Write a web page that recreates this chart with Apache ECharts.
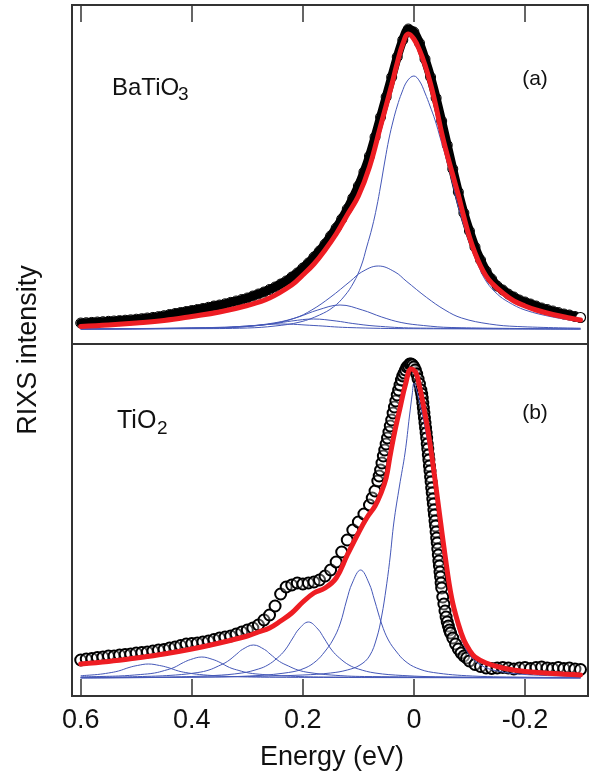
<!DOCTYPE html>
<html>
<head>
<meta charset="utf-8">
<title>RIXS BaTiO3 / TiO2</title>
<script src="https://cdn.jsdelivr.net/npm/echarts@6/dist/echarts.min.js"></script>
<style>
    html, body { margin: 0; padding: 0; background: #fff; }
    #chart { width: 591px; height: 776px; }
</style>
</head>
<body>
<div id="chart"></div>
<script>
// energy ticks (eV), axis runs from high to low
var tickValues = [0.6, 0.4, 0.2, 0, -0.2];

// (a) BaTiO3 : measured points [energy, intensity]
var dataA = [
    [0.60,6],[0.59,6.3],[0.58,6.6],[0.57,7],[0.56,7.3],[0.55,7.7],[0.54,8],[0.53,8.4],[0.52,8.8],[0.51,9.2],
    [0.50,9.8],[0.49,10.3],[0.48,11],[0.47,11.6],[0.46,12.4],[0.45,13.3],[0.44,14.5],[0.43,15.5],[0.42,16.5],[0.41,17.5],
    [0.40,18.5],[0.39,19.5],[0.38,20.5],[0.37,21.7],[0.36,23],[0.35,24],[0.34,25.2],[0.33,26.6],[0.32,28],[0.31,29.5],
    [0.30,31],[0.29,33],[0.28,35],[0.27,37],[0.26,39.5],[0.25,42],[0.24,45],[0.23,48],[0.22,52],[0.21,56],
    [0.20,61],[0.19,66],[0.18,72],[0.17,78],[0.16,85],[0.15,93],[0.14,101],[0.13,110],[0.12,120],[0.11,131],
    [0.10,143],[0.09,157],[0.08,173],[0.07,192],[0.06,212],[0.05,232],[0.04,252],[0.03,272],[0.02,289],[0.01,300],
    [0.00,297],[-0.01,286],[-0.02,270],[-0.03,252],[-0.04,231],[-0.05,208],[-0.06,184],[-0.07,160],[-0.08,137],[-0.09,116],
    [-0.10,98],[-0.11,82],[-0.12,69],[-0.13,58],[-0.14,50],[-0.15,43],[-0.16,39],[-0.17,35],[-0.18,32],[-0.19,29],
    [-0.20,27],[-0.21,25],[-0.22,23],[-0.23,21],[-0.24,19.5],[-0.25,18],[-0.26,16.5],[-0.27,15],[-0.28,14],[-0.29,12.5],
    [-0.30,11.5]
];
// (a) total fit
var fitA = [
    [0.60,2.5],[0.55,4],[0.50,6],[0.45,8.5],[0.40,12.5],[0.35,17],[0.30,23.5],[0.26,31],[0.22,44],[0.20,54],
    [0.18,65],[0.16,79],[0.14,95],[0.12,114],[0.10,133],[0.08,162],[0.06,203],[0.04,244],[0.03,266],[0.02,285],
    [0.01,295],[0.0,290],[-0.01,279],[-0.02,264],[-0.03,245],[-0.04,222],[-0.05,196],[-0.06,174],[-0.07,154],[-0.08,134],
    [-0.09,112],[-0.10,92],[-0.11,76],[-0.12,63],[-0.13,53],[-0.14,46],[-0.16,36],[-0.18,28],[-0.20,23],[-0.22,19],
    [-0.25,14.5],[-0.28,11],[-0.30,9]
];
// (a) fit components
var compA1 = [[0.60,0],[0.40,0.3],[0.30,1],[0.25,3],[0.205,7],[0.17,14],[0.145,22],[0.125,33],[0.109,46],[0.095,63],
    [0.085,82],[0.075,102],[0.067,122],[0.06,143],[0.052,169],[0.045,190],[0.037,209],[0.03,223],[0.022,236],[0.012,248],
    [0.0,253],[-0.01,248],[-0.02,236],[-0.029,223],[-0.038,209],[-0.048,190],[-0.059,169],[-0.07,145],[-0.08,122],[-0.092,100],
    [-0.104,80],[-0.117,62],[-0.131,47],[-0.15,35],[-0.17,27],[-0.20,19],[-0.25,12],[-0.30,7.5]];
var compA2 = [[0.60,0],[0.414,1],[0.314,2.5],[0.264,5],[0.214,11],[0.184,19],[0.151,31.5],[0.114,48],[0.094,57],[0.064,63],
    [0.034,57],[0.014,48],[-0.023,31.5],[-0.056,19],[-0.086,11],[-0.136,5],[-0.186,2.5],[-0.30,0.8]];
var compA3 = [[0.60,0],[0.333,1.5],[0.283,3.5],[0.243,6.5],[0.208,12],[0.173,19],[0.133,24],[0.093,19],[0.058,12],
    [0.023,6.5],[-0.017,3.5],[-0.067,1.5],[-0.30,0]];
var compA4 = [[0.60,0],[0.35,1.2],[0.29,3],[0.25,5.5],[0.22,8],[0.181,10],[0.14,8],[0.11,5.5],[0.07,3],[0.0,1],[-0.30,0]];
var compA5 = [[0.60,0],[0.36,1],[0.30,3],[0.24,5],[0.18,3.5],[0.12,1.5],[0.0,0.3],[-0.30,0]];

// (b) TiO2 : measured points
var dataB = [
    [0.60,18],[0.59,19],[0.58,19.5],[0.57,20.5],[0.56,21],[0.55,22],[0.54,22],[0.53,23],[0.52,23.5],[0.51,24],
    [0.50,25],[0.49,25.5],[0.48,26],[0.47,27],[0.46,28],[0.45,28.5],[0.44,30],[0.43,31],[0.42,32.5],[0.41,34],
    [0.40,34.5],[0.39,35],[0.38,36],[0.37,37],[0.36,38.5],[0.35,40],[0.34,41],[0.33,42],[0.32,44],[0.31,46],
    [0.30,48],[0.29,50],[0.28,53],[0.27,58],[0.26,63],[0.25,72],[0.24,84],[0.23,91],[0.22,93],[0.21,95],
    [0.20,94],[0.19,95],[0.18,96],[0.17,98],[0.16,102],[0.15,108],[0.14,116],[0.13,126],[0.12,138],[0.11,148],
    [0.10,156],[0.09,164],[0.08,173],[0.075,180],[0.07,187],[0.065,197],[0.0625,202],[0.06,208],[0.0575,215],[0.055,222],
    [0.0525,228],[0.05,234],[0.0475,240],[0.045,246],[0.0425,252],[0.04,258],[0.0375,265],[0.035,271],[0.0325,277],[0.03,283],
    [0.0275,288],[0.025,293],[0.0225,298],[0.02,302],[0.0175,305],[0.015,308],[0.0125,311],[0.01,312],[0.0075,314],[0.005,314],
    [0.0025,313],[0,311],[-0.0025,308],[-0.005,304],[-0.0075,299],[-0.01,294],[-0.0125,288],[-0.014,284],[-0.015,280],[-0.016,275],
    [-0.017,270],[-0.018,265],[-0.019,260],[-0.02,255],[-0.021,250],[-0.022,245],[-0.023,240],[-0.024,234],[-0.025,229],[-0.026,223],
    [-0.027,218],[-0.028,212],[-0.029,207],[-0.03,201],[-0.031,196],[-0.032,190],[-0.033,185],[-0.034,179],[-0.035,174],[-0.036,168],
    [-0.037,163],[-0.038,157],[-0.039,152],[-0.04,146],[-0.041,140],[-0.042,135],[-0.043,129],[-0.044,123],[-0.045,117],[-0.046,112],
    [-0.047,106],[-0.048,101],[-0.049,95],[-0.05,90],[-0.052,81],[-0.054,74],[-0.056,67],[-0.058,61],[-0.06,56],[-0.062,52],
    [-0.064,48],[-0.066,45],[-0.07,40],[-0.075,34],[-0.08,29],[-0.085,25],[-0.09,22],[-0.095,20],[-0.10,17],[-0.11,13.5],
    [-0.12,11.5],[-0.13,10],[-0.14,9.5],[-0.15,10],[-0.16,10.5],[-0.17,10],[-0.18,9],[-0.19,10],[-0.20,10.5],[-0.21,9.5],
    [-0.22,10.5],[-0.23,11],[-0.24,10],[-0.25,9.5],[-0.26,10.5],[-0.27,9.5],[-0.28,10],[-0.29,9],[-0.30,8.5]
];
// (b) total fit
var fitB = [
    [0.60,14],[0.55,16.5],[0.50,20],[0.45,24],[0.40,29],[0.35,35],[0.30,42],[0.28,46],[0.26,50],[0.24,57],
    [0.22,65],[0.20,76],[0.18,85],[0.16,90],[0.14,100],[0.12,123],[0.10,145],[0.085,160],[0.07,172],[0.06,184],
    [0.05,200],[0.043,222],[0.035,245],[0.025,270],[0.015,294],[0.005,309],[-0.003,306],[-0.01,292],[-0.017,273],[-0.025,248],
    [-0.032,223],[-0.044,173],[-0.056,123],[-0.068,80],[-0.08,54],[-0.09,38],[-0.10,28],[-0.11,21],[-0.13,15],[-0.16,10],
    [-0.20,6.5],[-0.25,4.5],[-0.30,3]
];
// (b) fit components
var compB1 = [[0.60,0],[0.30,1.5],[0.20,3],[0.15,5],[0.12,8],[0.097,13],[0.08,22],[0.067,40],[0.058,62],[0.05,90],
    [0.043,120],[0.036,156],[0.026,192],[0.016,225],[0.008,262],[0.003,284],[0.0,295],[-0.003,291],[-0.007,283],[-0.015,264],
    [-0.025,236],[-0.032,212],[-0.044,166],[-0.056,117],[-0.068,75],[-0.08,48],[-0.09,33],[-0.10,23],[-0.12,13],[-0.15,7],
    [-0.20,3.5],[-0.30,1.5]];
var compB2 = [[0.60,0.2],[0.396,0.8],[0.296,2],[0.226,5.5],[0.196,10],[0.176,17],[0.161,26],[0.146,38],[0.133,54],[0.121,78],
    [0.111,95],[0.096,108],[0.081,95],[0.071,78],[0.058,54],[0.046,38],[0.031,26],[0.016,17],[-0.005,10],[-0.035,5.5],
    [-0.105,2],[-0.205,0.8],[-0.30,0.4]];
var compB3 = [[0.60,0.3],[0.44,1],[0.36,2.5],[0.31,5],[0.28,9],[0.263,13],[0.246,20],[0.232,28],[0.218,40],[0.207,49],
    [0.19,56],[0.173,49],[0.162,40],[0.148,28],[0.134,20],[0.117,13],[0.10,9],[0.07,5],[0.02,2.5],[-0.06,1],[-0.30,0.2]];
var compB4 = [[0.60,0.5],[0.489,1.5],[0.429,3],[0.389,5.5],[0.369,8],[0.352,12],[0.336,16.5],[0.319,24],[0.309,28.5],[0.289,33],
    [0.269,28.5],[0.259,24],[0.242,16.5],[0.226,12],[0.209,8],[0.189,5.5],[0.149,3],[0.089,1.5],[-0.30,0.2]];
var compB5 = [[0.60,1.2],[0.532,2],[0.492,3.5],[0.467,5],[0.449,7.5],[0.432,10.5],[0.415,15.5],[0.402,18.5],[0.382,21],[0.362,18.5],
    [0.349,15.5],[0.332,10.5],[0.315,7.5],[0.297,5],[0.272,3.5],[0.232,2],[0.162,1],[-0.30,0.2]];
var compB6 = [[0.60,2.3],[0.57,3.5],[0.55,5],[0.532,7],[0.513,10.5],[0.498,12.5],[0.478,14],[0.458,12.5],[0.443,10.5],[0.424,7],
    [0.406,5],[0.386,3.5],[0.358,2.3],[0.318,1.3],[0.25,0.7],[-0.30,0.1]];

var FONT = '"Liberation Sans", Arial, sans-serif';
var BLUE = '#4558b8';
var RED = '#ee1d23';
var FRAME = '#333';

function compSeries(data, idx) {
    return {
        type: 'line', xAxisIndex: idx, yAxisIndex: idx, data: data,
        smooth: 0.4, showSymbol: false, silent: true, z: 3,
        lineStyle: { color: BLUE, width: 1 }
    };
}

function fitSeries(data, idx) {
    return {
        type: 'line', xAxisIndex: idx, yAxisIndex: idx, data: data,
        smooth: 0.4, showSymbol: false, silent: true, z: 4,
        lineStyle: { color: RED, width: 5, cap: 'round' }
    };
}

// top panel: dense band of points; last point drawn as open circle
var bandA = dataA.map(function (p, i) {
    if (i === dataA.length - 1) {
        return { value: p, itemStyle: { color: '#fff', borderColor: '#000', borderWidth: 1.2 } };
    }
    return p;
});

function xAxisFor(idx, pos, withLabels) {
    return {
        type: 'value', gridIndex: idx, position: pos,
        min: -0.3135, max: 0.6157, inverse: true,
        axisLine: { show: false, onZero: false },
        splitLine: { show: false },
        axisTick: { show: true, inside: true, length: 17, customValues: tickValues, lineStyle: { color: FRAME, width: 1.5 } },
        axisLabel: {
            show: withLabels, customValues: tickValues, margin: 11,
            fontSize: 27, fontFamily: FONT, color: '#111',
            formatter: function (v) { return String(v); }
        }
    };
}

var myChart = echarts.init(document.getElementById('chart'));
myChart.setOption({
    animation: false,
    backgroundColor: '#fff',
    grid: [
        { left: 72, top: 5, width: 516, height: 339, show: true, borderColor: FRAME, borderWidth: 2 },
        { left: 72, top: 344, width: 516, height: 352, show: true, borderColor: FRAME, borderWidth: 2 }
    ],
    xAxis: [ xAxisFor(0, 'top', false), xAxisFor(1, 'bottom', true) ],
    yAxis: [
        { type: 'value', gridIndex: 0, min: -15, max: 324, show: false },
        { type: 'value', gridIndex: 1, min: -18, max: 334, show: false }
    ],
    graphic: [
        { type: 'text', x: 112, y: 88, style: { text: 'BaTiO', fill: '#111', font: '24px ' + FONT, align: 'left', verticalAlign: 'middle' } },
        { type: 'text', x: 178, y: 95, style: { text: '3', fill: '#111', font: '19px ' + FONT, align: 'left', verticalAlign: 'middle' } },
        { type: 'text', x: 535, y: 79, style: { text: '(a)', fill: '#111', font: '21px ' + FONT, align: 'center', verticalAlign: 'middle' } },
        { type: 'text', x: 117, y: 421, style: { text: 'TiO', fill: '#111', font: '25px ' + FONT, align: 'left', verticalAlign: 'middle' } },
        { type: 'text', x: 157, y: 429, style: { text: '2', fill: '#111', font: '19px ' + FONT, align: 'left', verticalAlign: 'middle' } },
        { type: 'text', x: 535, y: 413, style: { text: '(b)', fill: '#111', font: '21px ' + FONT, align: 'center', verticalAlign: 'middle' } },
        { type: 'text', x: 29, y: 350, rotation: Math.PI / 2, style: { text: 'RIXS intensity', fill: '#111', font: '27px ' + FONT, align: 'center', verticalAlign: 'middle' } },
        { type: 'text', x: 332, y: 758, style: { text: 'Energy (eV)', fill: '#111', font: '27px ' + FONT, align: 'center', verticalAlign: 'middle' } }
    ],
    series: [
        // (a)
        {
            type: 'line', xAxisIndex: 0, yAxisIndex: 0, data: bandA,
            smooth: 0.3, showSymbol: true, symbol: 'circle', symbolSize: 10, silent: true, z: 2,
            itemStyle: { color: 'rgba(0,0,0,0)', borderColor: '#000', borderWidth: 1 },
            lineStyle: { color: '#000', width: 9, cap: 'round' }
        },
        compSeries(compA1, 0), compSeries(compA2, 0), compSeries(compA3, 0),
        compSeries(compA4, 0), compSeries(compA5, 0),
        fitSeries(fitA, 0),
        // (b)
        {
            type: 'scatter', xAxisIndex: 1, yAxisIndex: 1, data: dataB,
            symbol: 'circle', symbolSize: 11, silent: true, z: 2,
            itemStyle: { color: 'rgba(255,255,255,0.3)', borderColor: '#000', borderWidth: 2, opacity: 1 }
        },
        compSeries(compB1, 1), compSeries(compB2, 1), compSeries(compB3, 1),
        compSeries(compB4, 1), compSeries(compB5, 1), compSeries(compB6, 1),
        fitSeries(fitB, 1)
    ]
});
</script>
</body>
</html>
